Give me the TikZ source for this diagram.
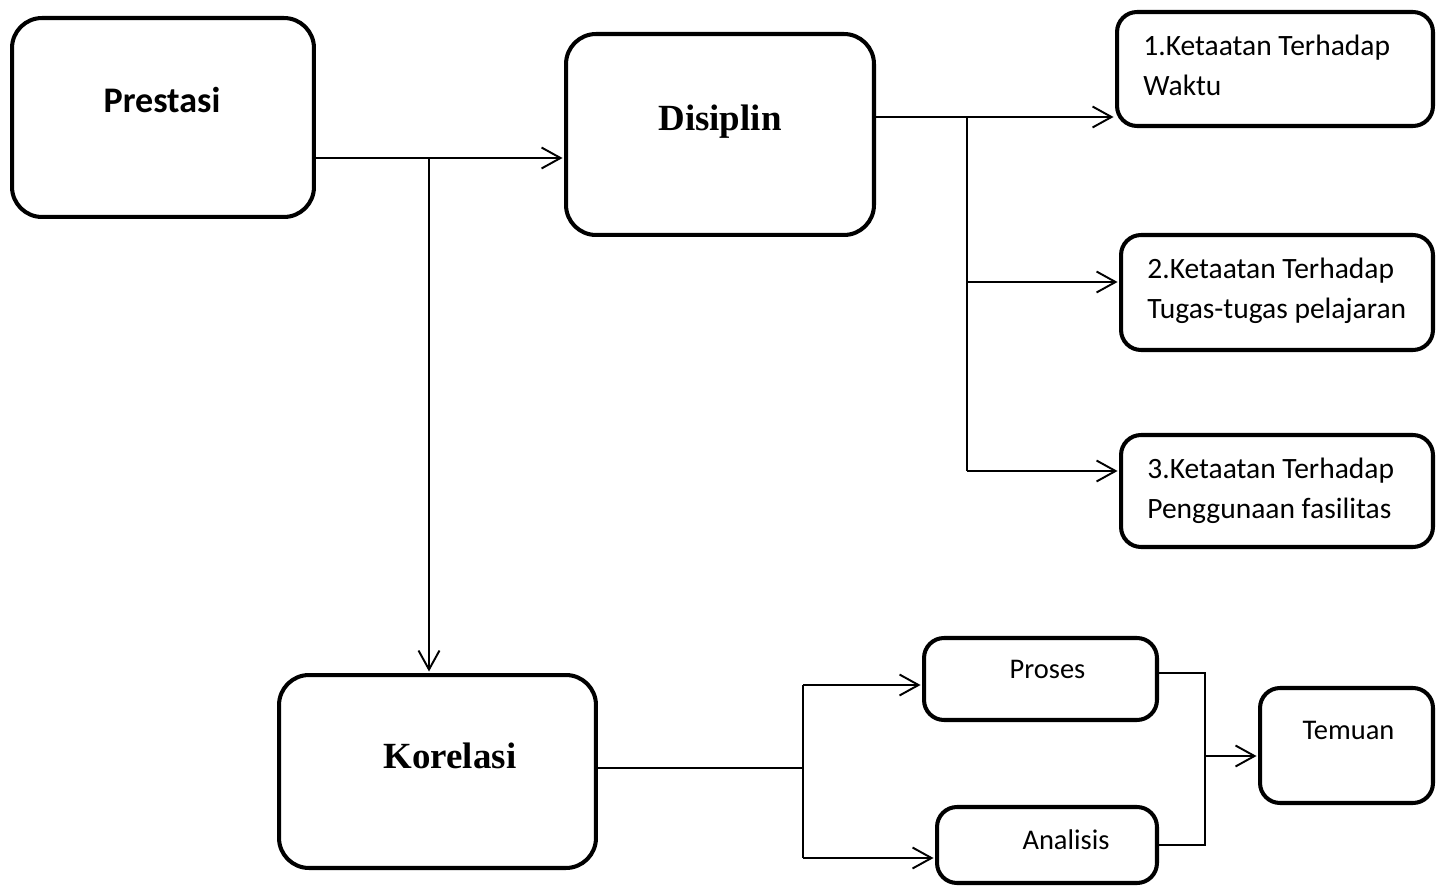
\documentclass[tikz,border=0pt]{standalone}
\usepackage{fontspec}
\setmainfont{Carlito}
\newfontfamily\timesfont{Liberation Serif}
\usetikzlibrary{arrows.meta}

\tikzset{
  box/.style={draw, line width=2.3pt, rounded corners=0.6cm, outer sep=0pt, inner sep=0pt},
  smallbox/.style={box, rounded corners=0.4cm},
  link/.style={line width=1.1pt},
  headtext/.style={inner sep=0pt, anchor=base, font=\fontsize{20.5}{24}\selectfont\bfseries},
  serifhead/.style={inner sep=0pt, anchor=base, font=\timesfont\fontsize{21}{25}\selectfont\bfseries},
  itemtext/.style={inner sep=0pt, anchor=base west, align=left, font=\fontsize{16.8}{23.2}\selectfont},
  smalltext/.style={inner sep=0pt, anchor=base, font=\fontsize{16.2}{20}\selectfont},
  >={Straight Barb[length=3.8mm, width=4.2mm, line width=1.1pt]}
}

\begin{document}
\begin{tikzpicture}[x=0.02cm, y=-0.02cm, line join=miter]
    \useasboundingbox (0,0) rectangle (1437,888);

    % kotak besar
    \node[box, minimum width=6.04cm, minimum height=3.98cm] (prestasi) at (163,117.5) {};
    \node[box, minimum width=6.16cm, minimum height=4.02cm] (disiplin) at (720,134.5) {};
    \node[box, minimum width=6.34cm, minimum height=3.86cm] (korelasi) at (437.5,771.5) {};
    \node[headtext] (prestasi-txt) at (162,113) {Prestasi};
    \node[serifhead] (disiplin-txt) at (720,131) {Disiplin};
    \node[serifhead] (korelasi-txt) at (450,768) {Korelasi};

    % indikator disiplin
    \node[smallbox, minimum width=6.32cm, minimum height=2.28cm] (item1) at (1275,69) {};
    \node[smallbox, minimum width=6.24cm, minimum height=2.30cm] (item2) at (1277,292.5) {};
    \node[smallbox, minimum width=6.24cm, minimum height=2.24cm] (item3) at (1277,491) {};
    % baris terakhir sebagai base
    \node[itemtext] (item1-txt) at (1143,96) {1.Ketaatan Terhadap\\Waktu};
    \node[itemtext] (item2-txt) at (1147,319) {2.Ketaatan Terhadap\\Tugas-tugas pelajaran};
    \node[itemtext] (item3-txt) at (1147,519) {3.Ketaatan Terhadap\\Penggunaan fasilitas};

    % proses, analisis, temuan
    \node[smallbox, minimum width=4.66cm, minimum height=1.64cm] (proses) at (1040.5,679) {};
    \node[smallbox, minimum width=4.40cm, minimum height=1.52cm] (analisis) at (1047,845) {};
    \node[smallbox, minimum width=3.46cm, minimum height=2.30cm] (temuan) at (1346.5,745.5) {};
    \node[smalltext] (proses-txt) at (1047.5,678) {Proses};
    \node[smalltext] (analisis-txt) at (1066,849) {Analisis};
    \node[smalltext] (temuan-txt) at (1348.5,739) {Temuan};

    % titik cabang
    \coordinate (split-a) at (429,158);
    \coordinate (split-b) at (967,117);
    \coordinate (split-c) at (967,282);
    \coordinate (split-d) at (967,471);
    \coordinate (split-e) at (803,768);
    \coordinate (split-f) at (803,685);
    \coordinate (split-g) at (803,858);
    \coordinate (join-a) at (1205,673);
    \coordinate (join-b) at (1205,845);
    \coordinate (join-c) at (1205,756);

    % garis penghubung
    \draw[link] (prestasi.east |- split-a) -- (split-a);
    \draw[link, ->, shorten >=2pt] (split-a) -- (disiplin.west |- split-a);
    \draw[link, ->, shorten >=2pt] (split-a) -- (korelasi.north -| split-a);

    \draw[link] (disiplin.east |- split-b) -- (split-b) -- (split-d);
    \draw[link, ->, shorten >=2pt] (split-b) -- (item1.west |- split-b);
    \draw[link, ->, shorten >=2pt] (split-c) -- (item2.west |- split-c);
    \draw[link, ->, shorten >=2pt] (split-d) -- (item3.west |- split-d);

    \draw[link] (korelasi.east |- split-e) -- (split-e);
    \draw[link] (split-f) -- (split-g);
    \draw[link, ->, shorten >=2pt] (split-f) -- (proses.west |- split-f);
    \draw[link, ->, shorten >=2pt] (split-g) -- (analisis.west |- split-g);

    \draw[link] (proses.east |- join-a) -- (join-a) -- (join-b) -- (analisis.east |- join-b);
    \draw[link, ->, shorten >=2pt] (join-c) -- (temuan.west |- join-c);
\end{tikzpicture}
\end{document}
